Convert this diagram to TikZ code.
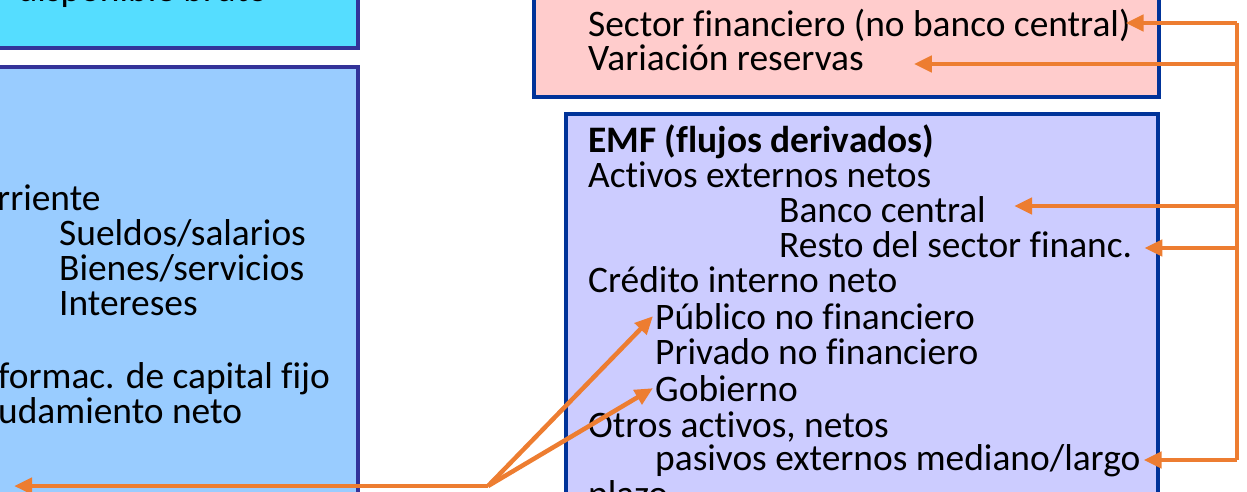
\documentclass[tikz,border=0pt]{standalone}
\usepackage{fontspec}
\setmainfont{Carlito}[Ligatures=NoCommon]
\usetikzlibrary{arrows.meta}

\definecolor{cyanbox}{HTML}{55DDFF}
\definecolor{bluebox}{HTML}{99CCFF}
\definecolor{pinkbox}{HTML}{FFCCCC}
\definecolor{lilabox}{HTML}{CCCCFF}
\definecolor{edgeA}{HTML}{333399}
\definecolor{edgeB}{HTML}{003399}
\definecolor{flecha}{HTML}{ED7D31}

\begin{document}
\begin{tikzpicture}[x=1pt,y=-1pt]
			\tikzstyle{box} = [line width = 3.5pt]
			\tikzstyle{item} = [
				anchor = base west, inner sep = 0pt,
				font = \fontsize{37.4}{37.4}\selectfont
			]
			\tikzstyle{flow}=[-{Triangle[length=18pt,width=16pt]},draw=flecha,line width=4.5pt]
			\tikzstyle{bus}=[-,draw=flecha,line width=4.5pt]
			\useasboundingbox (0,0) rectangle (1247,492);
			% cajas
			\draw[box, draw = edgeA, fill = cyanbox] (-20,-60) rectangle (358,48);
			\draw[box, draw = edgeA, fill = bluebox] (-20,67) rectangle (358,540);
			\draw[box, draw = edgeB, fill = pinkbox] (534,-60) rectangle (1159,97);
			\draw[box, draw = edgeB, fill = lilabox] (566,114) rectangle (1158,540);
			% textos
			\node[item, anchor = base east] (idb) at (268,2) {disponible bruto};
			\node[item] (gc) at (-3,210) {rriente};
			\node[item] (ss) at (59,245) {Sueldos/salarios};
			\node[item] (bs) at (59,280) {Bienes/servicios};
			\node[item] (int) at (59,315) {Intereses};
			\node[item] (fk) at (-2,388) {formac. de capital fijo};
			\node[item] (en) at (-2,423) {udamiento neto};
			\node[item] (sf) at (588,37) {Sector financiero (no banco central)};
			\node[item] (vr) at (588,71) {Variación reservas};
			\node[item, font = \fontsize{37.4}{37.4}\selectfont\bfseries] (emf) at (588,152) {EMF (flujos derivados)};
			\node[item] (aen) at (588,187) {Activos externos netos};
			\node[item] (bc) at (779,222) {Banco central};
			\node[item] (rsf) at (779,257) {Resto del sector financ.};
			\node[item] (cin) at (588,292) {Crédito interno neto};
			\node[item] (pub) at (655,329) {Público no financiero};
			\node[item] (pri) at (655,364) {Privado no financiero};
			\node[item] (gob) at (655,401) {Gobierno};
			\node[item] (oan) at (588,437) {Otros activos, netos};
			\node[item] (pas) at (655,470) {pasivos externos mediano/largo};
			\node[item] (plz) at (588,506) {plazo};
			% flechas de la derecha
			\coordinate (b1) at (1237,23);
			\coordinate (b2) at (1237,64);
			\coordinate (b3) at (1237,206);
			\coordinate (b4) at (1237,248);
			\coordinate (b5) at (1237,460);
			\draw (b1) to (b5) [bus];
			\draw (b1) to ([xshift=-5]b1 -| sf.east) [flow];
			\draw (b2) to ([xshift=50]b2 -| vr.east) [flow];
			\draw (b3) to ([xshift=28]b3 -| bc.east) [flow];
			\draw (b4) to ([xshift=12]b4 -| rsf.east) [flow];
			\draw (b5) to ([xshift=3]b5 -| pas.east) [flow];
			% flechas de abajo
			\coordinate (v) at (488,486);
			\coordinate (izq) at (14,486);
			\draw (v) to (izq) [flow];
			\draw (v) to ([xshift=-2]pub.west) [flow];
			\draw (v) to ([xshift=-2]gob.west) [flow];
		\end{tikzpicture}
\end{document}
